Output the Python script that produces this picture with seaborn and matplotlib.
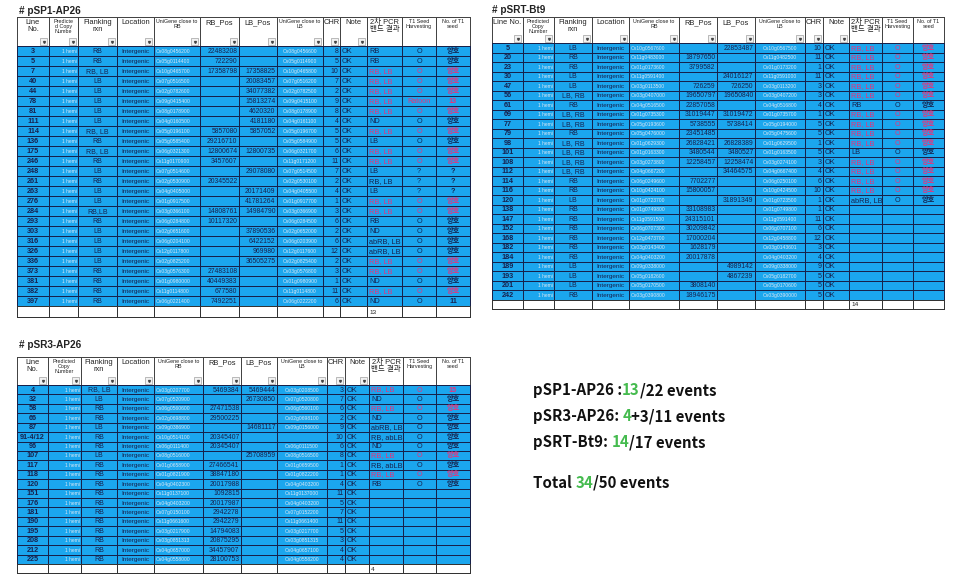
import numpy as np
import matplotlib
matplotlib.use('Agg')
import matplotlib.pyplot as plt
from matplotlib.colors import ListedColormap
from matplotlib.patches import Rectangle
import seaborn as sns

# ---- pSP1-AP26 ----
t1_line = ['3', '5', '7', '40', '44', '78', '81', '111', '114', '136', '175', '246', '248',
           '261', '263', '276', '284', '293', '303', '316', '326', '336', '373', '381', '382', '397']
t1_flank = ['RB', 'RB', 'RB, LB', 'LB', 'LB', 'LB', 'LB', 'LB', 'RB, LB', 'RB', 'RB, LB', 'RB', 'LB',
            'RB', 'LB', 'LB', 'RB,LB', 'RB', 'LB', 'LB', 'LB', 'LB', 'RB', 'RB', 'RB', 'RB']
t1_gene_rb = ['Os08g0456200', 'Os05g0114400', 'Os10g0465700', 'Os07g0516500', 'Os02g0782600',
              'Os09g0415400', 'Os08g0178900', 'Os04g0160500', 'Os05g0196100', 'Os05g0585400',
              'Os06g0321300', 'Os11g0170900', 'Os07g0514600', 'Os02g0530900', 'Os04g0405000',
              'Os01g0917500', 'Os03g0366100', 'Os06g0284800', 'Os02g0651600', 'Os06g0204100',
              'Os12g0117800', 'Os02g0825200', 'Os03g0576300', 'Os01g0980000', 'Os11g0114800',
              'Os06g0221400']
t1_rb = [22483208, 722290, 17358798, None, None, None, None, None, 5857080, 29216710, 12800674,
         3457607, None, 20345522, None, None, 14808761, 10117320, None, None, None, None,
         27483108, 40449383, 677580, 7492251]
t1_lb = [None, None, 17358825, 20083457, 34077382, 15813274, 4620320, 4181180, 5857052, None,
         12800735, None, 29078080, None, 20171409, 41781264, 14984790, None, 37890536, 6422152,
         969980, 36505275, None, None, None, None]
t1_gene_lb = ['Os08g0456600', 'Os05g0114900', 'Os10g0465800', 'Os07g0516200', 'Os02g0782500',
              'Os09g0415100', 'Os08g0178900', 'Os04g0161100', 'Os05g0196700', 'Os05g0584900',
              'Os06g0321700', 'Os11g0171200', 'Os07g0514500', 'Os02g0530100', 'Os04g0405500',
              'Os01g0917700', 'Os03g0366900', 'Os06g0284500', 'Os02g0652000', 'Os06g0203900',
              'Os12g0117600', 'Os02g0825400', 'Os03g0576800', 'Os01g0980900', 'Os11g0114800',
              'Os06g0222200']
t1_chr = [8, 5, 10, 7, 2, 9, 8, 4, 5, 5, 6, 11, 7, 2, 4, 1, 3, 6, 2, 6, 12, 2, 3, 1, 11, 6]
t1_pcr = ['RB', 'RB', 'RB, LB', 'RB, LB', 'RB, LB', 'RB, LB', 'RB, LB', 'ND', 'RB, LB', 'LB',
          'RB, LB', 'RB, LB', 'LB', 'RB, LB', 'LB', 'RB, LB', 'RB, LB', 'RB', 'ND', 'abRB, LB',
          'abRB, LB', 'RB, LB', 'RB, LB', 'ND', 'RB, LB', 'ND']
t1_harvest = ['O', 'O', 'O', 'O', 'O', 'Ratoon', 'O', 'O', 'O', 'O', 'O', 'O', '?', '?', '?',
              'O', 'O', 'O', 'O', 'O', 'O', 'O', 'O', 'O', 'O', 'O']
t1_seed = ['양호', '양호', '양호', '양호', '양호', '13', '양호', '양호', '양호', '양호', '양호', '양호',
           '?', '?', '?', '양호', '양호', '양호', '양호', '양호', '양호', '양호', '양호', '양호', '양호', '11']
t1_red = [0, 0, 1, 1, 1, 1, 1, 0, 1, 0, 1, 1, 0, 0, 0, 1, 1, 0, 0, 0, 0, 1, 1, 0, 1, 0]

# ---- pSRT-Bt9 ----
t2_line = ['5', '20', '23', '30', '47', '56', '61', '69', '77', '79', '98', '101', '108', '112',
           '114', '116', '120', '138', '147', '152', '168', '182', '184', '189', '193', '201', '242']
t2_flank = ['LB', 'RB', 'RB', 'LB', 'LB', 'LB, RB', 'RB', 'LB, RB', 'LB, RB', 'RB', 'LB, RB',
            'LB, RB', 'LB, RB', 'LB, RB', 'RB', 'RB', 'LB', 'RB', 'RB', 'RB', 'RB', 'RB', 'RB',
            'LB', 'LB', 'LB', 'RB']
t2_gene_rb = ['Os10g0567600', 'Os11g0483000', 'Os01g0173600', 'Os11g0591400', 'Os03g0113500',
              'Os03g0407000', 'Os04g0516500', 'Os01g0735300', 'Os05g0193600', 'Os05g0476000',
              'Os01g0629300', 'Os01g0163300', 'Os03g0273800', 'Os04g0667200', 'Os06g0249600',
              'Os10g0424100', 'Os01g0723700', 'Os01g0749800', 'Os11g0591500', 'Os06g0707300',
              'Os12g0473700', 'Os03g0143400', 'Os04g0403200', 'Os09g0338000', 'Os05g0182600',
              'Os05g0170500', 'Os03g0390800']
t2_rb = [None, 18797650, 3799582, None, 726259, 19650797, 22857058, 31019447, 5738555, 23451485,
         26828421, 3480544, 12258457, None, 7702277, 15800057, None, 33108983, 24315101,
         30209842, 17000204, 1628179, 20017878, None, None, 3808140, 18946175]
t2_lb = [22853487, None, None, 24016127, 726250, 19650840, None, 31019472, 5738414, None,
         26828389, 3480527, 12258474, 34464575, None, None, 31891349, None, None, None, None,
         None, None, 4989142, 4867239, None, None]
t2_gene_lb = ['Os10g0567500', 'Os11g0482500', 'Os01g0173200', 'Os11g0591000', 'Os03g0113200',
              'Os03g0407200', 'Os04g0516800', 'Os01g0735700', 'Os05g0194000', 'Os05g0475600',
              'Os01g0629500', 'Os01g0163500', 'Os03g0274100', 'Os04g0667400', 'Os06g0250100',
              'Os10g0424500', 'Os01g0723500', 'Os01g0749800', 'Os11g0591400', 'Os06g0707100',
              'Os12g0458800', 'Os03g0143601', 'Os04g0403200', 'Os09g0338000', 'Os05g0182700',
              'Os05g0170600', 'Os03g0390000']
t2_chr = [10, 11, 1, 11, 3, 3, 4, 1, 5, 5, 1, 5, 3, 4, 6, 10, 1, 1, 11, 6, 12, 3, 4, 9, 5, 5, 5]
t2_pcr = ['RB, LB'] * 6 + ['RB'] + ['RB, LB'] * 4 + ['LB'] + ['RB, LB'] * 4 + ['abRB, LB'] + [''] * 10
t2_harvest = ['O'] * 17 + [''] * 10
t2_seed = ['양호'] * 17 + [''] * 10
t2_red = [1, 1, 1, 1, 1, 1, 0, 1, 1, 1, 1, 0, 1, 1, 1, 1, 0] + [0] * 10

# ---- pSR3-AP26 ----
t3_line = ['4', '32', '58', '66', '87', '91-4/12', '96', '107', '117', '118', '120', '151', '176',
           '181', '190', '195', '208', '212', '225']
t3_flank = ['RB, LB', 'LB', 'RB', 'RB', 'LB', 'RB', 'RB', 'LB', 'RB', 'RB', 'RB', 'RB', 'RB', 'RB',
            'RB', 'RB', 'RB', 'RB', 'RB']
t3_gene_rb = ['Os03g0207700', 'Os07g0520900', 'Os06g0560600', 'Os02g0698800', 'Os09g0386900',
              'Os10g0514100', 'Os06g0111400', 'Os08g0516000', 'Os01g0658900', 'Os01g0821900',
              'Os04g0402300', 'Os11g0137100', 'Os04g0403200', 'Os07g0150100', 'Os11g0661600',
              'Os03g0217900', 'Os03g0851313', 'Os04g0657000', 'Os04g0558000']
t3_rb = [5469384, None, 27471538, 29500225, None, 20345407, 20345407, None, 27466541, 38847180,
         20017988, 1092815, 20017987, 2942278, 2942279, 14794083, 20875295, 34457907, 28100753]
t3_lb = [5469444, 26730850, None, None, 14681117, None, None, 25708959, None, None, None, None,
         None, None, None, None, None, None, None]
t3_gene_lb = ['Os03g0208500', 'Os07g0520800', 'Os06g0560100', 'Os02g0698100', 'Os09g0156000', '',
              'Os06g0111500', 'Os08g0516500', 'Os01g0659500', 'Os01g0822200', 'Os04g0403200',
              'Os11g0137000', 'Os04g0403200', 'Os07g0152200', 'Os11g0661400', 'Os03g0217700',
              'Os03g0851315', 'Os04g0657100', 'Os04g0558200']
t3_chr = [3, 7, 6, 2, 9, 10, 6, 8, 1, 1, 4, 11, 5, 7, 11, 5, 3, 4, 4]
t3_pcr = ['RB, LB', 'ND', 'RB, LB', 'ND', 'abRB, LB', 'RB, abLB', 'ND', 'RB, LB', 'RB, abLB',
          'RB, LB', 'RB'] + [''] * 8
t3_harvest = ['O'] * 11 + [''] * 8
t3_seed = ['15'] + ['양호'] * 10 + [''] * 8
t3_red = [1, 0, 1, 0, 0, 0, 0, 1, 0, 1, 0] + [0] * 8

# ---- summary ----
summary_lines = [
    [('pSP1-AP26 :', 'k'), ('13', 'g'), ('/22 events', 'k')],
    [('pSR3-AP26: ', 'k'), ('4', 'g'), ('+3/11 events', 'k')],
    [('pSRT-Bt9: ', 'k'), ('14', 'g'), ('/17 events', 'k')],
    [('Total ', 'k'), ('34', 'g'), ('/50 events', 'k')],
]

headers_a = ['Line\nNo.', 'Predicte\nd Copy\nNumbe', 'Flanking\nrxn', 'Location',
             'UniGene close to\nRB', 'RB_Pos', 'LB_Pos', 'UniGene close to\nLB', 'CHR', 'Note',
             '2차 PCR\n밴드 결과', 'T1 Seed\nHarvesting', 'No. of T1\nseed']
headers_b = ['Line No.', 'Predicted\nCopy\nNumber'] + headers_a[2:]
headers_c = ['Line\nNo.', 'Predicted\nCopy\nNumber'] + headers_a[2:]

BLUE = '#1ba6ee'
GRID = '#17214a'
INK = '#16224f'
PALE = '#d8e6f4'
RED = '#e8327a'
GREEN = '#45bb4f'

sns.set_theme(style='white')
plt.rcParams['font.family'] = ['Liberation Sans', 'Noto Sans CJK KR', 'DejaVu Sans']

fig = plt.figure(figsize=(9.62, 5.82), dpi=100)
ax = fig.add_axes([0, 0, 1, 1])
ax.set_xlim(0, 962)
ax.set_ylim(582, 0)
ax.axis('off')


def fmt(v):
    return '' if v is None else str(v)


def draw_table(title, title_xy, xs, y_head, y_data, row_h, blank_h, headers, cols, red, count):
    xs = np.asarray(xs, dtype=float)
    n = len(cols[0])
    nc = len(xs) - 1
    ys = y_data + np.arange(n + 1) * row_h
    y_end = ys[-1]

    ax.text(title_xy[0], title_xy[1], title, fontsize=7.2, fontweight='bold', color='#222222',
            va='center', ha='left')

    # header, body, blank row
    ax.pcolormesh(xs, [y_head, y_data], np.zeros((1, nc)), cmap=ListedColormap(['white']),
                  edgecolors='#444444', linewidth=0.55)
    ax.pcolormesh(xs, ys, np.zeros((n, nc)), cmap=ListedColormap([BLUE]),
                  edgecolors=GRID, linewidth=0.6)
    ax.pcolormesh(xs, [y_end, y_end + blank_h], np.zeros((1, nc)), cmap=ListedColormap(['white']),
                  edgecolors='#333333', linewidth=0.6)

    small = {1, 4, 7, 11, 12}
    for j, h in enumerate(headers):
        xm = (xs[j] + xs[j + 1]) / 2
        fs = 3.9 if j in small else 5.4
        ax.text(xm, y_head + 2, h, ha='center', va='top', fontsize=fs, color='#222222',
                linespacing=0.95)
        if j < 10:
            bx = xs[j + 1] - 8.5
            by = y_data - 8
            ax.add_patch(Rectangle((bx, by), 6.5, 6.5, facecolor='#f2f2f2', edgecolor='#a0a0a0',
                                   linewidth=0.5))
            ax.plot(bx + 3.25, by + 3.5, marker='v', ms=1.4, color='#444444')

    # column text settings: (align, fontsize, colour, weight, red-able)
    spec = [('center', 5.2, INK, 'bold', False),
            ('right', 3.5, PALE, 'normal', False),
            ('center', 5.0, INK, 'normal', False),
            ('center', 4.6, INK, 'normal', False),
            ('left', 3.6, PALE, 'normal', False),
            ('right', 4.9, INK, 'normal', False),
            ('right', 4.9, INK, 'normal', False),
            ('center', 3.6, PALE, 'normal', False),
            ('right', 5.0, INK, 'normal', False),
            ('left', 5.3, INK, 'normal', False),
            ('left', 5.3, INK, 'normal', True),
            ('center', 5.2, INK, 'normal', True),
            ('center', 5.2, INK, 'bold', True)]
    for j, col in enumerate(cols):
        align, fs, colr, wt, redable = spec[j]
        for i, v in enumerate(col):
            yc = (ys[i] + ys[i + 1]) / 2
            if align == 'center':
                x = (xs[j] + xs[j + 1]) / 2
            elif align == 'right':
                x = xs[j + 1] - 1.5
            else:
                x = xs[j] + 2
            c = RED if (redable and red[i]) else colr
            ax.text(x, yc + 0.3, fmt(v), ha=align, va='center', fontsize=fs, color=c,
                    fontweight=wt)

    ax.text(xs[10] + 2, y_end + blank_h / 2 + 0.5, count, ha='left', va='center',
            fontsize=4.6, color='#222222')


t1_cols = [t1_line, ['1 hemi'] * len(t1_line), t1_flank, ['Intergenic'] * len(t1_line), t1_gene_rb,
           t1_rb, t1_lb, t1_gene_lb, t1_chr, ['OK'] * len(t1_line), t1_pcr, t1_harvest, t1_seed]
t2_cols = [t2_line, ['1 hemi'] * len(t2_line), t2_flank, ['Intergenic'] * len(t2_line), t2_gene_rb,
           t2_rb, t2_lb, t2_gene_lb, t2_chr, ['OK'] * len(t2_line), t2_pcr, t2_harvest, t2_seed]
t3_cols = [t3_line, ['1 hemi'] * len(t3_line), t3_flank, ['Intergenic'] * len(t3_line), t3_gene_rb,
           t3_rb, t3_lb, t3_gene_lb, t3_chr, ['OK'] * len(t3_line), t3_pcr, t3_harvest, t3_seed]

draw_table('# pSP1-AP26', (19, 11),
           [17, 49, 78, 117, 154, 200, 239, 277, 323, 340, 367, 402, 436, 470],
           17, 46, 10.0, 11, headers_a, t1_cols, t1_red, '13')
draw_table('# pSRT-Bt9', (492, 10),
           [492, 523, 554, 592, 629, 679, 717, 755, 805, 823, 849, 882, 913, 944],
           17, 43, 9.5, 9.5, headers_b, t2_cols, t2_red, '14')
draw_table('# pSR3-AP26', (19, 345),
           [17, 48, 81, 117, 154, 203, 241, 277, 327, 345, 369, 403, 436, 470],
           357, 385, 9.42, 9.5, headers_c, t3_cols, t3_red, '4')

# summary text, coloured pieces chained one after another
for k, (parts, yb) in enumerate(zip(summary_lines, [395, 421, 447, 488])):
    prev = None
    for txt, c in parts:
        colr = GREEN if c == 'g' else '#111111'
        kw = dict(fontsize=10.8, fontweight='bold', color=colr, va='baseline', ha='left',
                  family=['Noto Sans CJK KR', 'DejaVu Sans'])
        if prev is None:
            prev = ax.text(533, yb, txt, **kw)
        else:
            prev = ax.annotate(txt, xy=(1, 0), xycoords=prev, xytext=(0, 0),
                               textcoords='offset points', **{**kw, 'va': 'bottom'})

fig.savefig('out.png', dpi=100)
